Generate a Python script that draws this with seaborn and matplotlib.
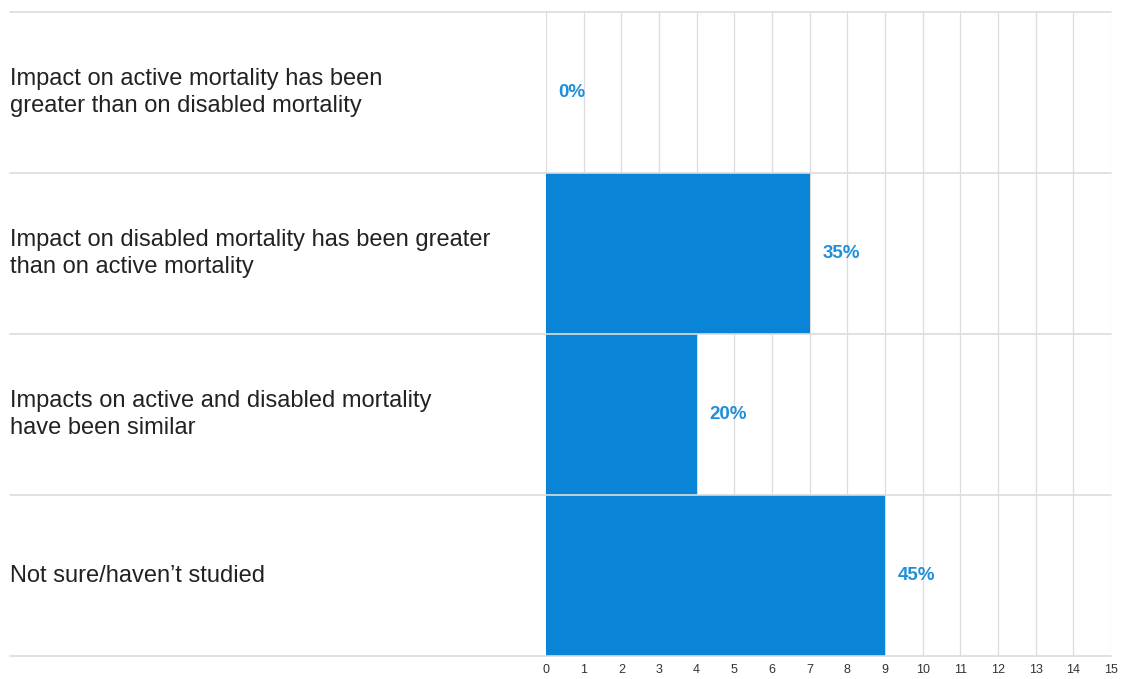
import matplotlib
matplotlib.use("Agg")
import matplotlib.pyplot as plt
import pandas as pd
import seaborn as sns

# Datos
categorias = [
    "Impact on active mortality has been\ngreater than on disabled mortality",
    "Impact on disabled mortality has been greater\nthan on active mortality",
    "Impacts on active and disabled mortality\nhave been similar",
    "Not sure/haven\u2019t studied",
]
respuestas = [0, 7, 4, 9]
porcentajes = ["0%", "35%", "20%", "45%"]
ticks_x = list(range(0, 16))

df = pd.DataFrame({"categoria": categorias, "respuestas": respuestas})

sns.set_style("white")
plt.rcParams["font.family"] = ["Liberation Sans", "DejaVu Sans"]

AZUL = "#0a84d6"
AZUL_TEXTO = "#1f8fd9"
GRIS = "#dcdcdc"

fig = plt.figure(figsize=(11.24, 6.79), dpi=100)
ax = fig.add_axes([546 / 1124, 1 - 656 / 679, 565 / 1124, 644 / 679])

sns.barplot(data=df, x="respuestas", y="categoria", orient="h",
            color=AZUL, saturation=1, width=1.0, linewidth=0, ax=ax, zorder=3)

ax.set_xlim(0, 15)
ax.set_ylim(len(categorias) - 0.5, -0.5)
ax.set_xticks(ticks_x)
ax.set_xticklabels([str(t) for t in ticks_x], fontsize=9, color="#333333")
ax.tick_params(axis="x", length=0, pad=6)
ax.set_yticks([])
ax.set_xlabel("")
ax.set_ylabel("")
for s in ax.spines.values():
    s.set_visible(False)

# lineas verticales de la cuadricula
for t in ticks_x:
    ax.axvline(t, color=GRIS, lw=0.9, zorder=1)

# separadores horizontales que cruzan tambien la zona de etiquetas
x_izq = -(546 - 10) / 565
for i in range(len(categorias) + 1):
    ax.axhline(i - 0.5, xmin=x_izq, xmax=1, color=GRIS, lw=1.2,
               clip_on=False, zorder=4)

# etiquetas de categoria a la izquierda
for i, cat in enumerate(categorias):
    ax.text(x_izq, i, cat, transform=ax.get_yaxis_transform(),
            ha="left", va="center", fontsize=17, color="#222222",
            linespacing=1.35)

# etiquetas de valor
for i, (v, p) in enumerate(zip(respuestas, porcentajes)):
    ax.annotate(p, (v, i), xytext=(9, 0), textcoords="offset points",
                ha="left", va="center", fontsize=13.5, fontweight="bold",
                color=AZUL_TEXTO)

fig.savefig("out.png", dpi=100)
